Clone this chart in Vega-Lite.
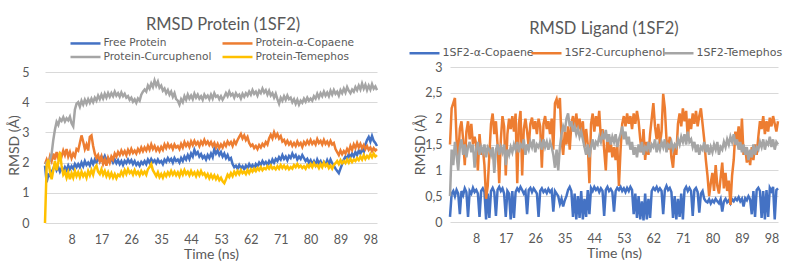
{
  "$schema": "https://vega.github.io/schema/vega-lite/v6.json",
  "background": "white",
  "padding": {"left": 7, "top": 16, "right": 0, "bottom": 0},
  "spacing": 31,
  "resolve": {"scale": {"color": "independent"}, "legend": {"color": "independent"}},
  "config": {
    "font": "Lato",
    "view": {"stroke": null},
    "axis": {
      "labelColor": "#595959", "titleColor": "#595959",
      "labelFontSize": 12.5, "titleFontSize": 14, "titleFontWeight": "normal",
      "gridColor": "#D9D9D9", "gridWidth": 1, "domain": false, "ticks": false,
      "labelOverlap": false
    },
    "legend": {
      "labelColor": "#595959", "labelFont": "DejaVu Sans", "labelFontSize": 10.6, "labelOffset": 10.5,
      "symbolType": "M-2.5,0H2.5", "symbolSize": 144, "symbolStrokeWidth": 3,
      "rowPadding": 0, "padding": 0
    },
    "title": {"color": "#595959", "fontSize": 16.5, "fontWeight": "normal", "anchor": "middle"},
    "line": {"strokeWidth": 2.5}
  },
  "datasets": {
    "protein": [
      {"t":0,"free":1.9,"copaene":1.95,"curcuphenol":1.95,"temephos":0},
      {"t":0.5,"free":1.35,"copaene":2.1,"curcuphenol":2.0,"temephos":1.9},
      {"t":1,"free":1.6,"copaene":1.95,"curcuphenol":1.9,"temephos":2.1},
      {"t":1.5,"free":1.55,"copaene":2.2,"curcuphenol":2.1,"temephos":1.7},
      {"t":2,"free":1.7,"copaene":2.05,"curcuphenol":2.3,"temephos":1.45},
      {"t":2.5,"free":1.8,"copaene":2.3,"curcuphenol":2.75,"temephos":1.75},
      {"t":3,"free":1.95,"copaene":2.1,"curcuphenol":3.1,"temephos":2.05},
      {"t":3.5,"free":1.75,"copaene":2.35,"curcuphenol":3.35,"temephos":1.75},
      {"t":4,"free":1.85,"copaene":2.15,"curcuphenol":3.25,"temephos":2.0},
      {"t":4.5,"free":1.7,"copaene":2.3,"curcuphenol":3.45,"temephos":2.35},
      {"t":5,"free":1.82,"copaene":2.2,"curcuphenol":3.38,"temephos":1.9},
      {"t":5.5,"free":1.72,"copaene":2.4,"curcuphenol":3.5,"temephos":1.6},
      {"t":6,"free":1.85,"copaene":2.25,"curcuphenol":3.36,"temephos":1.7},
      {"t":6.5,"free":1.75,"copaene":2.45,"curcuphenol":3.47,"temephos":1.5},
      {"t":7,"free":1.9,"copaene":2.2,"curcuphenol":3.4,"temephos":1.68},
      {"t":7.5,"free":1.78,"copaene":2.35,"curcuphenol":3.52,"temephos":1.45},
      {"t":8,"free":1.88,"copaene":2.15,"curcuphenol":3.3,"temephos":1.65},
      {"t":8.5,"free":1.8,"copaene":2.3,"curcuphenol":3.2,"temephos":1.5},
      {"t":9,"free":1.95,"copaene":2.2,"curcuphenol":3.75,"temephos":1.72},
      {"t":9.5,"free":1.85,"copaene":2.45,"curcuphenol":3.95,"temephos":1.55},
      {"t":10,"free":1.95,"copaene":2.4,"curcuphenol":4.0,"temephos":1.68},
      {"t":10.5,"free":1.85,"copaene":2.65,"curcuphenol":3.85,"temephos":1.52},
      {"t":11,"free":2.0,"copaene":2.9,"curcuphenol":4.05,"temephos":1.7},
      {"t":11.5,"free":1.88,"copaene":2.7,"curcuphenol":3.92,"temephos":1.55},
      {"t":12,"free":2.05,"copaene":2.45,"curcuphenol":4.08,"temephos":1.65},
      {"t":12.5,"free":1.92,"copaene":2.6,"curcuphenol":3.95,"temephos":1.5},
      {"t":13,"free":2.0,"copaene":2.4,"curcuphenol":4.1,"temephos":1.72},
      {"t":13.5,"free":1.9,"copaene":2.85,"curcuphenol":3.98,"temephos":1.58},
      {"t":14,"free":2.08,"copaene":2.9,"curcuphenol":4.12,"temephos":1.75},
      {"t":14.5,"free":1.95,"copaene":2.55,"curcuphenol":4.0,"temephos":1.6},
      {"t":15,"free":2.1,"copaene":2.3,"curcuphenol":4.15,"temephos":1.82},
      {"t":15.5,"free":2.0,"copaene":2.15,"curcuphenol":4.05,"temephos":1.9},
      {"t":16,"free":2.18,"copaene":2.25,"curcuphenol":4.22,"temephos":1.7},
      {"t":16.5,"free":2.05,"copaene":2.05,"curcuphenol":4.1,"temephos":1.62},
      {"t":17,"free":2.2,"copaene":2.2,"curcuphenol":4.25,"temephos":1.78},
      {"t":17.5,"free":2.1,"copaene":1.95,"curcuphenol":4.12,"temephos":1.6},
      {"t":18,"free":2.22,"copaene":2.1,"curcuphenol":4.28,"temephos":1.72},
      {"t":18.5,"free":2.08,"copaene":1.9,"curcuphenol":4.15,"temephos":1.55},
      {"t":19,"free":2.15,"copaene":2.15,"curcuphenol":4.3,"temephos":1.68},
      {"t":19.5,"free":2.05,"copaene":2.0,"curcuphenol":4.18,"temephos":1.52},
      {"t":20,"free":2.12,"copaene":2.2,"curcuphenol":4.3,"temephos":1.65},
      {"t":20.5,"free":2.0,"copaene":2.1,"curcuphenol":4.2,"temephos":1.5},
      {"t":21,"free":2.1,"copaene":2.3,"curcuphenol":4.35,"temephos":1.62},
      {"t":21.5,"free":1.98,"copaene":2.2,"curcuphenol":4.22,"temephos":1.48},
      {"t":22,"free":2.08,"copaene":2.35,"curcuphenol":4.3,"temephos":1.6},
      {"t":22.5,"free":1.95,"copaene":2.25,"curcuphenol":4.18,"temephos":1.55},
      {"t":23,"free":2.05,"copaene":2.4,"curcuphenol":4.32,"temephos":1.7},
      {"t":23.5,"free":1.92,"copaene":2.28,"curcuphenol":4.2,"temephos":1.58},
      {"t":24,"free":2.06,"copaene":2.38,"curcuphenol":4.28,"temephos":1.75},
      {"t":24.5,"free":1.98,"copaene":2.25,"curcuphenol":4.15,"temephos":1.62},
      {"t":25,"free":2.1,"copaene":2.42,"curcuphenol":4.2,"temephos":1.78},
      {"t":25.5,"free":2.0,"copaene":2.3,"curcuphenol":4.08,"temephos":1.65},
      {"t":26,"free":2.08,"copaene":2.45,"curcuphenol":4.15,"temephos":1.72},
      {"t":26.5,"free":1.95,"copaene":2.32,"curcuphenol":4.02,"temephos":1.6},
      {"t":27,"free":2.05,"copaene":2.4,"curcuphenol":4.1,"temephos":1.75},
      {"t":27.5,"free":1.92,"copaene":2.3,"curcuphenol":3.98,"temephos":1.62},
      {"t":28,"free":2.0,"copaene":2.45,"curcuphenol":4.12,"temephos":1.7},
      {"t":28.5,"free":1.9,"copaene":2.35,"curcuphenol":4.05,"temephos":1.58},
      {"t":29,"free":2.02,"copaene":2.5,"curcuphenol":4.25,"temephos":1.72},
      {"t":29.5,"free":1.95,"copaene":2.38,"curcuphenol":4.35,"temephos":1.62},
      {"t":30,"free":2.05,"copaene":2.5,"curcuphenol":4.42,"temephos":1.7},
      {"t":30.5,"free":1.95,"copaene":2.4,"curcuphenol":4.35,"temephos":1.6},
      {"t":31,"free":2.1,"copaene":2.55,"curcuphenol":4.55,"temephos":1.78},
      {"t":31.5,"free":2.0,"copaene":2.42,"curcuphenol":4.45,"temephos":1.85},
      {"t":32,"free":2.12,"copaene":2.6,"curcuphenol":4.62,"temephos":1.95},
      {"t":32.5,"free":2.02,"copaene":2.45,"curcuphenol":4.5,"temephos":1.75},
      {"t":33,"free":2.08,"copaene":2.55,"curcuphenol":4.72,"temephos":1.65},
      {"t":33.5,"free":1.98,"copaene":2.4,"curcuphenol":4.55,"temephos":1.55},
      {"t":34,"free":2.1,"copaene":2.5,"curcuphenol":4.68,"temephos":1.68},
      {"t":34.5,"free":2.0,"copaene":2.38,"curcuphenol":4.48,"temephos":1.52},
      {"t":35,"free":2.05,"copaene":2.52,"curcuphenol":4.55,"temephos":1.62},
      {"t":35.5,"free":1.95,"copaene":2.42,"curcuphenol":4.38,"temephos":1.5},
      {"t":36,"free":2.1,"copaene":2.6,"curcuphenol":4.45,"temephos":1.65},
      {"t":36.5,"free":2.02,"copaene":2.48,"curcuphenol":4.3,"temephos":1.55},
      {"t":37,"free":2.15,"copaene":2.62,"curcuphenol":4.4,"temephos":1.68},
      {"t":37.5,"free":2.05,"copaene":2.5,"curcuphenol":4.25,"temephos":1.58},
      {"t":38,"free":2.12,"copaene":2.58,"curcuphenol":4.35,"temephos":1.72},
      {"t":38.5,"free":2.0,"copaene":2.45,"curcuphenol":4.18,"temephos":1.6},
      {"t":39,"free":2.15,"copaene":2.6,"curcuphenol":4.3,"temephos":1.7},
      {"t":39.5,"free":2.05,"copaene":2.5,"curcuphenol":4.1,"temephos":1.58},
      {"t":40,"free":2.1,"copaene":2.55,"curcuphenol":4.05,"temephos":1.68},
      {"t":40.5,"free":2.0,"copaene":2.45,"curcuphenol":3.92,"temephos":1.55},
      {"t":41,"free":2.15,"copaene":2.62,"curcuphenol":4.1,"temephos":1.72},
      {"t":41.5,"free":2.05,"copaene":2.5,"curcuphenol":4.0,"temephos":1.6},
      {"t":42,"free":2.2,"copaene":2.68,"curcuphenol":4.2,"temephos":1.75},
      {"t":42.5,"free":2.1,"copaene":2.55,"curcuphenol":4.08,"temephos":1.62},
      {"t":43,"free":2.25,"copaene":2.65,"curcuphenol":4.25,"temephos":1.7},
      {"t":43.5,"free":2.12,"copaene":2.52,"curcuphenol":4.12,"temephos":1.58},
      {"t":44,"free":2.3,"copaene":2.7,"curcuphenol":4.22,"temephos":1.72},
      {"t":44.5,"free":2.2,"copaene":2.58,"curcuphenol":4.1,"temephos":1.6},
      {"t":45,"free":2.42,"copaene":2.72,"curcuphenol":4.28,"temephos":1.68},
      {"t":45.5,"free":2.28,"copaene":2.6,"curcuphenol":4.15,"temephos":1.55},
      {"t":46,"free":2.35,"copaene":2.68,"curcuphenol":4.25,"temephos":1.7},
      {"t":46.5,"free":2.2,"copaene":2.55,"curcuphenol":4.12,"temephos":1.58},
      {"t":47,"free":2.28,"copaene":2.7,"curcuphenol":4.2,"temephos":1.72},
      {"t":47.5,"free":2.15,"copaene":2.6,"curcuphenol":4.08,"temephos":1.6},
      {"t":48,"free":2.22,"copaene":2.75,"curcuphenol":4.25,"temephos":1.65},
      {"t":48.5,"free":2.1,"copaene":2.62,"curcuphenol":4.15,"temephos":1.52},
      {"t":49,"free":2.25,"copaene":2.7,"curcuphenol":4.22,"temephos":1.62},
      {"t":49.5,"free":2.15,"copaene":2.58,"curcuphenol":4.1,"temephos":1.48},
      {"t":50,"free":2.3,"copaene":2.68,"curcuphenol":4.25,"temephos":1.6},
      {"t":50.5,"free":2.18,"copaene":2.55,"curcuphenol":4.12,"temephos":1.48},
      {"t":51,"free":2.45,"copaene":2.65,"curcuphenol":4.3,"temephos":1.58},
      {"t":51.5,"free":2.3,"copaene":2.5,"curcuphenol":4.18,"temephos":1.45},
      {"t":52,"free":2.4,"copaene":2.62,"curcuphenol":4.22,"temephos":1.55},
      {"t":52.5,"free":2.25,"copaene":2.48,"curcuphenol":4.1,"temephos":1.42},
      {"t":53,"free":2.35,"copaene":2.6,"curcuphenol":4.2,"temephos":1.5},
      {"t":53.5,"free":2.2,"copaene":2.5,"curcuphenol":4.08,"temephos":1.38},
      {"t":54,"free":2.3,"copaene":2.65,"curcuphenol":4.18,"temephos":1.32},
      {"t":54.5,"free":2.15,"copaene":2.55,"curcuphenol":4.3,"temephos":1.45},
      {"t":55,"free":2.25,"copaene":2.7,"curcuphenol":4.2,"temephos":1.6},
      {"t":55.5,"free":2.1,"copaene":2.6,"curcuphenol":4.35,"temephos":1.52},
      {"t":56,"free":2.15,"copaene":2.68,"curcuphenol":4.22,"temephos":1.65},
      {"t":56.5,"free":1.95,"copaene":2.55,"curcuphenol":4.28,"temephos":1.55},
      {"t":57,"free":1.85,"copaene":2.72,"curcuphenol":4.15,"temephos":1.7},
      {"t":57.5,"free":1.9,"copaene":2.62,"curcuphenol":4.3,"temephos":1.6},
      {"t":58,"free":1.8,"copaene":2.75,"curcuphenol":4.2,"temephos":1.72},
      {"t":58.5,"free":1.92,"copaene":2.85,"curcuphenol":4.25,"temephos":1.62},
      {"t":59,"free":1.82,"copaene":2.95,"curcuphenol":4.12,"temephos":1.75},
      {"t":59.5,"free":1.88,"copaene":2.8,"curcuphenol":4.28,"temephos":1.65},
      {"t":60,"free":1.78,"copaene":2.9,"curcuphenol":4.18,"temephos":1.7},
      {"t":60.5,"free":1.9,"copaene":2.75,"curcuphenol":4.3,"temephos":1.62},
      {"t":61,"free":1.82,"copaene":2.85,"curcuphenol":4.22,"temephos":1.75},
      {"t":61.5,"free":1.95,"copaene":2.65,"curcuphenol":4.35,"temephos":1.65},
      {"t":62,"free":1.85,"copaene":2.55,"curcuphenol":4.25,"temephos":1.78},
      {"t":62.5,"free":1.92,"copaene":2.6,"curcuphenol":4.4,"temephos":1.7},
      {"t":63,"free":1.8,"copaene":2.48,"curcuphenol":4.28,"temephos":1.8},
      {"t":63.5,"free":1.95,"copaene":2.55,"curcuphenol":4.35,"temephos":1.72},
      {"t":64,"free":1.88,"copaene":2.45,"curcuphenol":4.22,"temephos":1.82},
      {"t":64.5,"free":2.0,"copaene":2.58,"curcuphenol":4.38,"temephos":1.75},
      {"t":65,"free":1.92,"copaene":2.5,"curcuphenol":4.3,"temephos":1.85},
      {"t":65.5,"free":2.05,"copaene":2.62,"curcuphenol":4.45,"temephos":1.75},
      {"t":66,"free":1.95,"copaene":2.55,"curcuphenol":4.32,"temephos":1.82},
      {"t":66.5,"free":2.02,"copaene":2.68,"curcuphenol":4.4,"temephos":1.78},
      {"t":67,"free":1.92,"copaene":2.6,"curcuphenol":4.25,"temephos":1.88},
      {"t":67.5,"free":2.05,"copaene":2.8,"curcuphenol":4.38,"temephos":1.8},
      {"t":68,"free":1.95,"copaene":2.92,"curcuphenol":4.22,"temephos":1.9},
      {"t":68.5,"free":2.1,"copaene":2.8,"curcuphenol":4.3,"temephos":1.8},
      {"t":69,"free":2.0,"copaene":3.0,"curcuphenol":4.15,"temephos":1.85},
      {"t":69.5,"free":2.12,"copaene":2.85,"curcuphenol":4.28,"temephos":1.78},
      {"t":70,"free":2.05,"copaene":2.95,"curcuphenol":4.1,"temephos":1.88},
      {"t":70.5,"free":2.18,"copaene":2.8,"curcuphenol":3.95,"temephos":1.8},
      {"t":71,"free":2.1,"copaene":2.88,"curcuphenol":4.15,"temephos":1.92},
      {"t":71.5,"free":2.25,"copaene":2.7,"curcuphenol":4.05,"temephos":1.82},
      {"t":72,"free":2.12,"copaene":2.75,"curcuphenol":4.2,"temephos":1.9},
      {"t":72.5,"free":2.2,"copaene":2.62,"curcuphenol":4.08,"temephos":1.8},
      {"t":73,"free":2.08,"copaene":2.72,"curcuphenol":4.22,"temephos":1.88},
      {"t":73.5,"free":2.22,"copaene":2.6,"curcuphenol":4.1,"temephos":1.78},
      {"t":74,"free":2.15,"copaene":2.68,"curcuphenol":4.15,"temephos":1.85},
      {"t":74.5,"free":2.3,"copaene":2.55,"curcuphenol":4.0,"temephos":1.8},
      {"t":75,"free":2.18,"copaene":2.65,"curcuphenol":4.1,"temephos":1.92},
      {"t":75.5,"free":2.25,"copaene":2.55,"curcuphenol":3.95,"temephos":1.85},
      {"t":76,"free":2.1,"copaene":2.7,"curcuphenol":4.08,"temephos":1.95},
      {"t":76.5,"free":2.2,"copaene":2.58,"curcuphenol":3.92,"temephos":1.85},
      {"t":77,"free":2.12,"copaene":2.65,"curcuphenol":4.05,"temephos":1.9},
      {"t":77.5,"free":2.25,"copaene":2.52,"curcuphenol":3.98,"temephos":1.82},
      {"t":78,"free":2.15,"copaene":2.68,"curcuphenol":4.12,"temephos":1.88},
      {"t":78.5,"free":2.05,"copaene":2.6,"curcuphenol":4.02,"temephos":1.8},
      {"t":79,"free":2.12,"copaene":2.72,"curcuphenol":4.15,"temephos":1.92},
      {"t":79.5,"free":2.0,"copaene":2.62,"curcuphenol":4.05,"temephos":1.85},
      {"t":80,"free":2.08,"copaene":2.75,"curcuphenol":4.12,"temephos":1.95},
      {"t":80.5,"free":1.95,"copaene":2.62,"curcuphenol":4.05,"temephos":1.85},
      {"t":81,"free":2.05,"copaene":2.7,"curcuphenol":4.2,"temephos":1.98},
      {"t":81.5,"free":1.92,"copaene":2.6,"curcuphenol":4.12,"temephos":1.88},
      {"t":82,"free":2.1,"copaene":2.78,"curcuphenol":4.28,"temephos":1.92},
      {"t":82.5,"free":1.98,"copaene":2.65,"curcuphenol":4.15,"temephos":1.82},
      {"t":83,"free":2.05,"copaene":2.72,"curcuphenol":4.3,"temephos":1.95},
      {"t":83.5,"free":1.9,"copaene":2.6,"curcuphenol":4.2,"temephos":1.85},
      {"t":84,"free":2.02,"copaene":2.75,"curcuphenol":4.35,"temephos":2.0},
      {"t":84.5,"free":1.92,"copaene":2.62,"curcuphenol":4.22,"temephos":1.88},
      {"t":85,"free":2.08,"copaene":2.7,"curcuphenol":4.32,"temephos":1.95},
      {"t":85.5,"free":1.95,"copaene":2.58,"curcuphenol":4.2,"temephos":1.82},
      {"t":86,"free":2.1,"copaene":2.72,"curcuphenol":4.38,"temephos":1.9},
      {"t":86.5,"free":1.98,"copaene":2.6,"curcuphenol":4.25,"temephos":1.8},
      {"t":87,"free":1.9,"copaene":2.65,"curcuphenol":4.4,"temephos":1.92},
      {"t":87.5,"free":1.8,"copaene":2.45,"curcuphenol":4.28,"temephos":1.98},
      {"t":88,"free":1.72,"copaene":2.35,"curcuphenol":4.35,"temephos":2.05},
      {"t":88.5,"free":1.65,"copaene":2.25,"curcuphenol":4.22,"temephos":1.95},
      {"t":89,"free":1.8,"copaene":2.4,"curcuphenol":4.4,"temephos":2.08},
      {"t":89.5,"free":1.95,"copaene":2.28,"curcuphenol":4.3,"temephos":1.98},
      {"t":90,"free":2.1,"copaene":2.38,"curcuphenol":4.45,"temephos":2.05},
      {"t":90.5,"free":2.2,"copaene":2.3,"curcuphenol":4.32,"temephos":1.98},
      {"t":91,"free":2.12,"copaene":2.45,"curcuphenol":4.5,"temephos":2.1},
      {"t":91.5,"free":2.28,"copaene":2.35,"curcuphenol":4.38,"temephos":2.0},
      {"t":92,"free":2.18,"copaene":2.55,"curcuphenol":4.3,"temephos":2.12},
      {"t":92.5,"free":2.3,"copaene":2.42,"curcuphenol":4.42,"temephos":2.02},
      {"t":93,"free":2.2,"copaene":2.6,"curcuphenol":4.35,"temephos":2.1},
      {"t":93.5,"free":2.35,"copaene":2.48,"curcuphenol":4.5,"temephos":2.05},
      {"t":94,"free":2.25,"copaene":2.65,"curcuphenol":4.4,"temephos":2.15},
      {"t":94.5,"free":2.4,"copaene":2.5,"curcuphenol":4.55,"temephos":2.08},
      {"t":95,"free":2.3,"copaene":2.62,"curcuphenol":4.42,"temephos":2.2},
      {"t":95.5,"free":2.45,"copaene":2.48,"curcuphenol":4.62,"temephos":2.1},
      {"t":96,"free":2.35,"copaene":2.58,"curcuphenol":4.45,"temephos":2.25},
      {"t":96.5,"free":2.6,"copaene":2.45,"curcuphenol":4.58,"temephos":2.12},
      {"t":97,"free":2.75,"copaene":2.55,"curcuphenol":4.4,"temephos":2.22},
      {"t":97.5,"free":2.85,"copaene":2.42,"curcuphenol":4.55,"temephos":2.15},
      {"t":98,"free":2.7,"copaene":2.5,"curcuphenol":4.42,"temephos":2.28},
      {"t":98.5,"free":2.88,"copaene":2.38,"curcuphenol":4.6,"temephos":2.18},
      {"t":99,"free":2.72,"copaene":2.48,"curcuphenol":4.45,"temephos":2.3},
      {"t":99.5,"free":2.65,"copaene":2.4,"curcuphenol":4.52,"temephos":2.2},
      {"t":100,"free":2.55,"copaene":2.45,"curcuphenol":4.4,"temephos":2.25}
    ],
    "ligand": [
      {"t":0,"copaene":0.1,"curcuphenol":1.5,"temephos":0.5},
      {"t":0.5,"copaene":0.55,"curcuphenol":2.2,"temephos":1.4},
      {"t":1,"copaene":0.6,"curcuphenol":2.3,"temephos":1.1},
      {"t":1.5,"copaene":0.5,"curcuphenol":2.4,"temephos":1.55},
      {"t":2,"copaene":0.62,"curcuphenol":1.6,"temephos":1.3},
      {"t":2.5,"copaene":0.55,"curcuphenol":1.25,"temephos":1.0},
      {"t":3,"copaene":0.15,"curcuphenol":1.8,"temephos":1.45},
      {"t":3.5,"copaene":0.6,"curcuphenol":1.95,"temephos":1.6},
      {"t":4,"copaene":0.52,"curcuphenol":1.6,"temephos":1.3},
      {"t":4.5,"copaene":0.65,"curcuphenol":1.1,"temephos":1.5},
      {"t":5,"copaene":0.58,"curcuphenol":1.75,"temephos":1.25},
      {"t":5.5,"copaene":0.1,"curcuphenol":1.95,"temephos":1.45},
      {"t":6,"copaene":0.6,"curcuphenol":1.6,"temephos":1.55},
      {"t":6.5,"copaene":0.55,"curcuphenol":1.9,"temephos":1.35},
      {"t":7,"copaene":0.66,"curcuphenol":1.5,"temephos":1.5},
      {"t":7.5,"copaene":0.58,"curcuphenol":1.65,"temephos":1.05},
      {"t":8,"copaene":0.62,"curcuphenol":1.5,"temephos":1.4},
      {"t":8.5,"copaene":0.55,"curcuphenol":1.0,"temephos":1.55},
      {"t":9,"copaene":0.1,"curcuphenol":1.7,"temephos":1.3},
      {"t":9.5,"copaene":0.6,"curcuphenol":1.3,"temephos":1.45},
      {"t":10,"copaene":0.65,"curcuphenol":1.45,"temephos":1.35},
      {"t":10.5,"copaene":0.58,"curcuphenol":1.1,"temephos":1.5},
      {"t":11,"copaene":0.05,"curcuphenol":0.45,"temephos":1.25},
      {"t":11.5,"copaene":0.55,"curcuphenol":0.7,"temephos":1.45},
      {"t":12,"copaene":0.08,"curcuphenol":1.3,"temephos":1.4},
      {"t":12.5,"copaene":0.6,"curcuphenol":1.9,"temephos":1.3},
      {"t":13,"copaene":0.66,"curcuphenol":2.1,"temephos":1.45},
      {"t":13.5,"copaene":0.58,"curcuphenol":1.7,"temephos":0.95},
      {"t":14,"copaene":0.12,"curcuphenol":1.95,"temephos":1.4},
      {"t":14.5,"copaene":0.62,"curcuphenol":1.5,"temephos":1.5},
      {"t":15,"copaene":0.68,"curcuphenol":0.75,"temephos":1.3},
      {"t":15.5,"copaene":0.6,"curcuphenol":1.6,"temephos":1.45},
      {"t":16,"copaene":0.65,"curcuphenol":2.05,"temephos":1.35},
      {"t":16.5,"copaene":0.55,"curcuphenol":1.85,"temephos":1.5},
      {"t":17,"copaene":0.1,"curcuphenol":0.9,"temephos":1.1},
      {"t":17.5,"copaene":0.6,"curcuphenol":1.7,"temephos":1.4},
      {"t":18,"copaene":0.55,"curcuphenol":2.0,"temephos":1.3},
      {"t":18.5,"copaene":0.05,"curcuphenol":1.8,"temephos":1.45},
      {"t":19,"copaene":0.6,"curcuphenol":2.05,"temephos":1.35},
      {"t":19.5,"copaene":0.08,"curcuphenol":1.75,"temephos":1.5},
      {"t":20,"copaene":0.58,"curcuphenol":2.1,"temephos":1.4},
      {"t":20.5,"copaene":0.65,"curcuphenol":0.75,"temephos":1.55},
      {"t":21,"copaene":0.6,"curcuphenol":1.9,"temephos":1.35},
      {"t":21.5,"copaene":0.68,"curcuphenol":2.15,"temephos":1.5},
      {"t":22,"copaene":0.62,"curcuphenol":0.9,"temephos":1.45},
      {"t":22.5,"copaene":0.55,"curcuphenol":1.8,"temephos":1.6},
      {"t":23,"copaene":0.6,"curcuphenol":2.0,"temephos":1.3},
      {"t":23.5,"copaene":0.15,"curcuphenol":1.75,"temephos":1.5},
      {"t":24,"copaene":0.62,"curcuphenol":1.45,"temephos":1.4},
      {"t":24.5,"copaene":0.66,"curcuphenol":1.9,"temephos":1.55},
      {"t":25,"copaene":0.58,"curcuphenol":2.02,"temephos":1.45},
      {"t":25.5,"copaene":0.65,"curcuphenol":1.8,"temephos":1.6},
      {"t":26,"copaene":0.6,"curcuphenol":1.95,"temephos":1.35},
      {"t":26.5,"copaene":0.55,"curcuphenol":1.7,"temephos":1.5},
      {"t":27,"copaene":0.1,"curcuphenol":2.0,"temephos":1.45},
      {"t":27.5,"copaene":0.6,"curcuphenol":1.85,"temephos":1.55},
      {"t":28,"copaene":0.65,"curcuphenol":1.05,"temephos":1.4},
      {"t":28.5,"copaene":0.58,"curcuphenol":1.9,"temephos":1.6},
      {"t":29,"copaene":0.62,"curcuphenol":2.05,"temephos":1.45},
      {"t":29.5,"copaene":0.56,"curcuphenol":1.8,"temephos":1.55},
      {"t":30,"copaene":0.64,"curcuphenol":1.95,"temephos":1.4},
      {"t":30.5,"copaene":0.58,"curcuphenol":1.7,"temephos":1.55},
      {"t":31,"copaene":0.62,"curcuphenol":2.0,"temephos":1.45},
      {"t":31.5,"copaene":0.2,"curcuphenol":1.4,"temephos":1.3},
      {"t":32,"copaene":0.6,"curcuphenol":2.3,"temephos":1.05},
      {"t":32.5,"copaene":0.55,"curcuphenol":2.38,"temephos":1.4},
      {"t":33,"copaene":0.5,"curcuphenol":2.2,"temephos":1.0},
      {"t":33.5,"copaene":0.35,"curcuphenol":2.4,"temephos":1.45},
      {"t":34,"copaene":0.45,"curcuphenol":1.6,"temephos":1.7},
      {"t":34.5,"copaene":0.3,"curcuphenol":1.3,"temephos":1.85},
      {"t":35,"copaene":0.42,"curcuphenol":1.75,"temephos":1.75},
      {"t":35.5,"copaene":0.5,"curcuphenol":1.5,"temephos":2.0},
      {"t":36,"copaene":0.62,"curcuphenol":1.85,"temephos":2.1},
      {"t":36.5,"copaene":0.68,"curcuphenol":1.4,"temephos":1.85},
      {"t":37,"copaene":0.6,"curcuphenol":1.9,"temephos":1.95},
      {"t":37.5,"copaene":0.1,"curcuphenol":2.05,"temephos":1.75},
      {"t":38,"copaene":0.55,"curcuphenol":1.75,"temephos":1.85},
      {"t":38.5,"copaene":0.05,"curcuphenol":2.1,"temephos":1.7},
      {"t":39,"copaene":0.5,"curcuphenol":1.8,"temephos":1.8},
      {"t":39.5,"copaene":0.08,"curcuphenol":2.0,"temephos":1.65},
      {"t":40,"copaene":0.6,"curcuphenol":1.7,"temephos":1.75},
      {"t":40.5,"copaene":0.05,"curcuphenol":1.95,"temephos":1.6},
      {"t":41,"copaene":0.45,"curcuphenol":1.45,"temephos":1.45},
      {"t":41.5,"copaene":0.1,"curcuphenol":1.8,"temephos":1.3},
      {"t":42,"copaene":0.62,"curcuphenol":1.5,"temephos":1.5},
      {"t":42.5,"copaene":0.15,"curcuphenol":0.75,"temephos":1.25},
      {"t":43,"copaene":0.66,"curcuphenol":1.9,"temephos":1.45},
      {"t":43.5,"copaene":0.6,"curcuphenol":2.1,"temephos":1.6},
      {"t":44,"copaene":0.68,"curcuphenol":1.75,"temephos":1.4},
      {"t":44.5,"copaene":0.62,"curcuphenol":2.05,"temephos":1.55},
      {"t":45,"copaene":0.66,"curcuphenol":1.85,"temephos":1.5},
      {"t":45.5,"copaene":0.58,"curcuphenol":2.15,"temephos":1.65},
      {"t":46,"copaene":0.65,"curcuphenol":1.6,"temephos":1.55},
      {"t":46.5,"copaene":0.6,"curcuphenol":1.8,"temephos":1.7},
      {"t":47,"copaene":0.12,"curcuphenol":1.4,"temephos":1.6},
      {"t":47.5,"copaene":0.62,"curcuphenol":1.0,"temephos":1.78},
      {"t":48,"copaene":0.68,"curcuphenol":1.7,"temephos":1.55},
      {"t":48.5,"copaene":0.6,"curcuphenol":1.35,"temephos":1.7},
      {"t":49,"copaene":0.64,"curcuphenol":1.55,"temephos":1.5},
      {"t":49.5,"copaene":0.58,"curcuphenol":1.25,"temephos":1.65},
      {"t":50,"copaene":0.2,"curcuphenol":1.45,"temephos":1.55},
      {"t":50.5,"copaene":0.6,"curcuphenol":1.2,"temephos":1.7},
      {"t":51,"copaene":0.66,"curcuphenol":1.5,"temephos":1.45},
      {"t":51.5,"copaene":0.62,"curcuphenol":0.7,"temephos":1.6},
      {"t":52,"copaene":0.68,"curcuphenol":1.4,"temephos":1.7},
      {"t":52.5,"copaene":0.6,"curcuphenol":1.9,"temephos":1.85},
      {"t":53,"copaene":0.65,"curcuphenol":2.05,"temephos":1.6},
      {"t":53.5,"copaene":0.58,"curcuphenol":1.85,"temephos":1.75},
      {"t":54,"copaene":0.66,"curcuphenol":2.1,"temephos":1.5},
      {"t":54.5,"copaene":0.6,"curcuphenol":1.9,"temephos":1.65},
      {"t":55,"copaene":0.68,"curcuphenol":2.05,"temephos":1.4},
      {"t":55.5,"copaene":0.62,"curcuphenol":1.8,"temephos":1.55},
      {"t":56,"copaene":0.15,"curcuphenol":2.1,"temephos":1.3},
      {"t":56.5,"copaene":0.55,"curcuphenol":1.9,"temephos":1.45},
      {"t":57,"copaene":0.08,"curcuphenol":2.15,"temephos":1.25},
      {"t":57.5,"copaene":0.5,"curcuphenol":1.95,"temephos":1.5},
      {"t":58,"copaene":0.05,"curcuphenol":1.6,"temephos":1.35},
      {"t":58.5,"copaene":0.4,"curcuphenol":1.35,"temephos":1.55},
      {"t":59,"copaene":0.03,"curcuphenol":1.8,"temephos":1.3},
      {"t":59.5,"copaene":0.55,"curcuphenol":1.2,"temephos":1.45},
      {"t":60,"copaene":0.05,"curcuphenol":1.55,"temephos":1.4},
      {"t":60.5,"copaene":0.45,"curcuphenol":1.3,"temephos":1.55},
      {"t":61,"copaene":0.08,"curcuphenol":1.7,"temephos":1.35},
      {"t":61.5,"copaene":0.6,"curcuphenol":2.0,"temephos":1.5},
      {"t":62,"copaene":0.66,"curcuphenol":2.3,"temephos":1.45},
      {"t":62.5,"copaene":0.62,"curcuphenol":1.85,"temephos":1.6},
      {"t":63,"copaene":0.68,"curcuphenol":1.6,"temephos":1.35},
      {"t":63.5,"copaene":0.6,"curcuphenol":1.9,"temephos":1.5},
      {"t":64,"copaene":0.65,"curcuphenol":1.5,"temephos":1.4},
      {"t":64.5,"copaene":0.6,"curcuphenol":1.75,"temephos":1.55},
      {"t":65,"copaene":0.15,"curcuphenol":2.48,"temephos":1.45},
      {"t":65.5,"copaene":0.62,"curcuphenol":2.2,"temephos":1.6},
      {"t":66,"copaene":0.7,"curcuphenol":1.6,"temephos":1.35},
      {"t":66.5,"copaene":0.62,"curcuphenol":1.4,"temephos":1.5},
      {"t":67,"copaene":0.66,"curcuphenol":1.65,"temephos":1.45},
      {"t":67.5,"copaene":0.58,"curcuphenol":1.25,"temephos":1.55},
      {"t":68,"copaene":0.08,"curcuphenol":1.05,"temephos":1.4},
      {"t":68.5,"copaene":0.5,"curcuphenol":1.5,"temephos":1.5},
      {"t":69,"copaene":0.05,"curcuphenol":1.3,"temephos":1.45},
      {"t":69.5,"copaene":0.45,"curcuphenol":1.9,"temephos":1.6},
      {"t":70,"copaene":0.1,"curcuphenol":2.1,"temephos":1.5},
      {"t":70.5,"copaene":0.55,"curcuphenol":1.85,"temephos":1.65},
      {"t":71,"copaene":0.05,"curcuphenol":2.2,"temephos":1.55},
      {"t":71.5,"copaene":0.62,"curcuphenol":1.95,"temephos":1.7},
      {"t":72,"copaene":0.68,"curcuphenol":2.15,"temephos":1.5},
      {"t":72.5,"copaene":0.6,"curcuphenol":1.6,"temephos":1.75},
      {"t":73,"copaene":0.66,"curcuphenol":2.0,"temephos":1.55},
      {"t":73.5,"copaene":0.6,"curcuphenol":1.8,"temephos":1.6},
      {"t":74,"copaene":0.12,"curcuphenol":2.1,"temephos":1.45},
      {"t":74.5,"copaene":0.62,"curcuphenol":1.9,"temephos":1.55},
      {"t":75,"copaene":0.66,"curcuphenol":2.15,"temephos":1.35},
      {"t":75.5,"copaene":0.58,"curcuphenol":1.85,"temephos":1.5},
      {"t":76,"copaene":0.18,"curcuphenol":2.05,"temephos":1.3},
      {"t":76.5,"copaene":0.55,"curcuphenol":2.2,"temephos":1.45},
      {"t":77,"copaene":0.6,"curcuphenol":1.9,"temephos":1.4},
      {"t":77.5,"copaene":0.45,"curcuphenol":1.6,"temephos":1.55},
      {"t":78,"copaene":0.4,"curcuphenol":1.2,"temephos":1.35},
      {"t":78.5,"copaene":0.38,"curcuphenol":0.9,"temephos":1.5},
      {"t":79,"copaene":0.44,"curcuphenol":0.5,"temephos":1.3},
      {"t":79.5,"copaene":0.36,"curcuphenol":0.75,"temephos":1.45},
      {"t":80,"copaene":0.42,"curcuphenol":0.95,"temephos":1.35},
      {"t":80.5,"copaene":0.38,"curcuphenol":0.6,"temephos":1.5},
      {"t":81,"copaene":0.45,"curcuphenol":1.1,"temephos":1.4},
      {"t":81.5,"copaene":0.4,"curcuphenol":0.7,"temephos":1.55},
      {"t":82,"copaene":0.36,"curcuphenol":0.55,"temephos":1.3},
      {"t":82.5,"copaene":0.44,"curcuphenol":0.85,"temephos":1.45},
      {"t":83,"copaene":0.2,"curcuphenol":1.15,"temephos":1.4},
      {"t":83.5,"copaene":0.4,"curcuphenol":0.65,"temephos":1.55},
      {"t":84,"copaene":0.45,"curcuphenol":0.95,"temephos":1.45},
      {"t":84.5,"copaene":0.38,"curcuphenol":0.6,"temephos":1.6},
      {"t":85,"copaene":0.42,"curcuphenol":0.8,"temephos":1.5},
      {"t":85.5,"copaene":0.36,"curcuphenol":0.33,"temephos":1.65},
      {"t":86,"copaene":0.44,"curcuphenol":0.9,"temephos":1.55},
      {"t":86.5,"copaene":0.4,"curcuphenol":1.2,"temephos":1.7},
      {"t":87,"copaene":0.46,"curcuphenol":1.75,"temephos":1.5},
      {"t":87.5,"copaene":0.42,"curcuphenol":1.55,"temephos":1.6},
      {"t":88,"copaene":0.48,"curcuphenol":1.85,"temephos":1.4},
      {"t":88.5,"copaene":0.4,"curcuphenol":1.4,"temephos":1.55},
      {"t":89,"copaene":0.45,"curcuphenol":2.0,"temephos":1.35},
      {"t":89.5,"copaene":0.3,"curcuphenol":1.3,"temephos":1.5},
      {"t":90,"copaene":0.46,"curcuphenol":1.45,"temephos":1.3},
      {"t":90.5,"copaene":0.42,"curcuphenol":1.15,"temephos":1.45},
      {"t":91,"copaene":0.5,"curcuphenol":1.35,"temephos":1.2},
      {"t":91.5,"copaene":0.44,"curcuphenol":1.1,"temephos":1.4},
      {"t":92,"copaene":0.15,"curcuphenol":1.45,"temephos":1.25},
      {"t":92.5,"copaene":0.6,"curcuphenol":1.2,"temephos":1.5},
      {"t":93,"copaene":0.1,"curcuphenol":1.5,"temephos":1.3},
      {"t":93.5,"copaene":0.62,"curcuphenol":1.3,"temephos":1.45},
      {"t":94,"copaene":0.66,"curcuphenol":1.65,"temephos":1.4},
      {"t":94.5,"copaene":0.6,"curcuphenol":1.95,"temephos":1.55},
      {"t":95,"copaene":0.08,"curcuphenol":1.8,"temephos":1.45},
      {"t":95.5,"copaene":0.6,"curcuphenol":2.05,"temephos":1.6},
      {"t":96,"copaene":0.05,"curcuphenol":1.7,"temephos":1.4},
      {"t":96.5,"copaene":0.62,"curcuphenol":1.95,"temephos":1.55},
      {"t":97,"copaene":0.1,"curcuphenol":1.75,"temephos":1.5},
      {"t":97.5,"copaene":0.66,"curcuphenol":2.02,"temephos":1.65},
      {"t":98,"copaene":0.6,"curcuphenol":1.85,"temephos":1.45},
      {"t":98.5,"copaene":0.68,"curcuphenol":2.05,"temephos":1.6},
      {"t":99,"copaene":0.05,"curcuphenol":1.9,"temephos":1.4},
      {"t":99.5,"copaene":0.62,"curcuphenol":1.75,"temephos":1.55},
      {"t":100,"copaene":0.65,"curcuphenol":1.95,"temephos":1.5}
    ]
  },
  "hconcat": [
    {
      "width": 332,
      "height": 156,
      "title": {"text": "RMSD Protein (1SF2)", "dx": 12, "offset": 2.5},
      "data": {"name": "protein"},
      "encoding": {
        "x": {
          "field": "t", "type": "quantitative",
          "scale": {"domain": [0, 100], "nice": false, "zero": false},
          "axis": {
            "values": [8, 17, 26, 35, 44, 53, 62, 71, 80, 89, 98],
            "grid": false, "title": "Time (ns)", "labelPadding": 10, "titlePadding": 2
          }
        }
      },
      "layer": [
        {
          "mark": "line",
          "encoding": {
            "y": {
              "field": "free", "type": "quantitative",
              "scale": {"domain": [0, 5.166], "nice": false},
              "axis": {"values": [0, 1, 2, 3, 4, 5], "title": "RMSD (Å)", "labelPadding": 16, "titlePadding": 0}
            },
            "color": {
              "datum": "Free Protein", "type": "nominal",
              "scale": {
                "domain": ["Free Protein", "Protein-α-Copaene", "Protein-Curcuphenol", "Protein-Temephos"],
                "range": ["#4472C4", "#ED7D31", "#A5A5A5", "#FFC000"]
              },
              "legend": {
                "title": null, "orient": "none", "direction": "horizontal", "columns": 2,
                "columnPadding": 5, "legendX": 33, "legendY": -31.5
              }
            }
          }
        },
        {
          "mark": "line",
          "encoding": {
            "y": {
              "field": "copaene", "type": "quantitative",
              "axis": {"values": [0, 1, 2, 3, 4, 5], "title": "RMSD (Å)", "labelPadding": 16, "titlePadding": 0}
            },
            "color": {"datum": "Protein-α-Copaene", "type": "nominal"}
          }
        },
        {
          "mark": "line",
          "encoding": {
            "y": {
              "field": "curcuphenol", "type": "quantitative",
              "axis": {"values": [0, 1, 2, 3, 4, 5], "title": "RMSD (Å)", "labelPadding": 16, "titlePadding": 0}
            },
            "color": {"datum": "Protein-Curcuphenol", "type": "nominal"}
          }
        },
        {
          "mark": "line",
          "encoding": {
            "y": {
              "field": "temephos", "type": "quantitative",
              "axis": {"values": [0, 1, 2, 3, 4, 5], "title": "RMSD (Å)", "labelPadding": 16, "titlePadding": 0}
            },
            "color": {"datum": "Protein-Temephos", "type": "nominal"}
          }
        }
      ]
    },
    {
      "width": 328,
      "height": 155,
      "title": {"text": "RMSD Ligand (1SF2)", "dx": -10, "offset": 8.5},
      "data": {"name": "ligand"},
      "encoding": {
        "x": {
          "field": "t", "type": "quantitative",
          "scale": {"domain": [0, 100], "nice": false, "zero": false},
          "axis": {
            "values": [8, 17, 26, 35, 44, 53, 62, 71, 80, 89, 98],
            "grid": false, "title": "Time (ns)", "labelPadding": 10, "titlePadding": 2
          }
        }
      },
      "layer": [
        {
          "mark": "line",
          "encoding": {
            "y": {
              "field": "copaene", "type": "quantitative",
              "scale": {"domain": [0, 3], "nice": false},
              "axis": {
                "values": [0, 0.5, 1, 1.5, 2, 2.5, 3],
                "labelExpr": "replace(format(datum.value, '~g'), '.', ',')",
                "title": "RMSD (Å)", "labelPadding": 8, "titlePadding": -3
              }
            },
            "color": {
              "datum": "1SF2-α-Copaene", "type": "nominal",
              "scale": {
                "domain": ["1SF2-α-Copaene", "1SF2-Curcuphenol", "1SF2-Temephos"],
                "range": ["#4472C4", "#ED7D31", "#A5A5A5"]
              },
              "legend": {
                "title": null, "orient": "none", "direction": "horizontal", "columns": 3,
                "columnPadding": -8, "legendX": -33, "legendY": -21.5, "labelFontSize": 11
              }
            }
          }
        },
        {
          "mark": "line",
          "encoding": {
            "y": {
              "field": "curcuphenol", "type": "quantitative",
              "axis": {
                "values": [0, 0.5, 1, 1.5, 2, 2.5, 3],
                "labelExpr": "replace(format(datum.value, '~g'), '.', ',')",
                "title": "RMSD (Å)", "labelPadding": 8, "titlePadding": -3
              }
            },
            "color": {"datum": "1SF2-Curcuphenol", "type": "nominal"}
          }
        },
        {
          "mark": "line",
          "encoding": {
            "y": {
              "field": "temephos", "type": "quantitative",
              "axis": {
                "values": [0, 0.5, 1, 1.5, 2, 2.5, 3],
                "labelExpr": "replace(format(datum.value, '~g'), '.', ',')",
                "title": "RMSD (Å)", "labelPadding": 8, "titlePadding": -3
              }
            },
            "color": {"datum": "1SF2-Temephos", "type": "nominal"}
          }
        }
      ]
    }
  ]
}
